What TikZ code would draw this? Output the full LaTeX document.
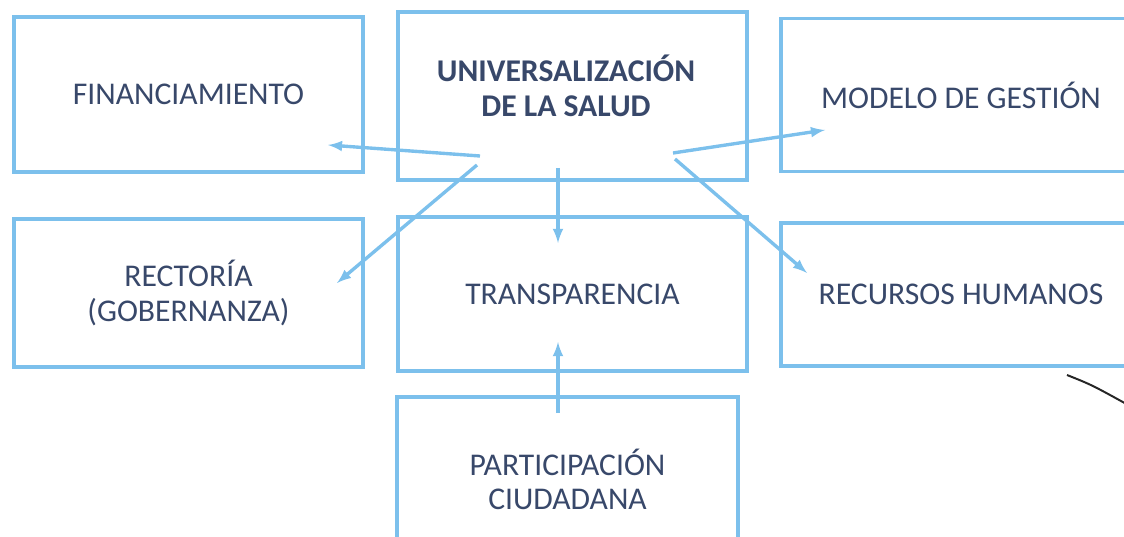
\documentclass[tikz,border=0pt]{standalone}
\usepackage{fontspec}
\setmainfont{Carlito}
\usepackage{xcolor}
\usepackage{tikz}
\usetikzlibrary{calc}
\usetikzlibrary{arrows}
\tikzset{>=latex}

\definecolor{azulcaja}{RGB}{124,192,236}
\definecolor{textocaja}{RGB}{56,72,106}

\tikzset{caja/.style={draw=azulcaja, line width=2.3pt, align=center,
		text=textocaja, inner sep=0pt, font=\fontsize{22.5}{24.5}\selectfont}}
\tikzset{rotulo/.style={align=center, text=textocaja, inner sep=0pt,
		font=\fontsize{22.5}{24.5}\selectfont\bfseries}}
\tikzset{flecha/.style={->, draw=azulcaja, line width=2.4pt}}

\begin{document}
\begin{tikzpicture}[x=0.025cm, y=-0.025cm]
	\useasboundingbox (0,0) rectangle (1124,537);
	
	% Cajas
	\node[caja, minimum width=8.725cm, minimum height=3.875cm](fin) at (188.5,94.5) {FINANCIAMIENTO};
	\node[caja, minimum width=8.725cm, minimum height=4.2cm](uni) at (572.5,96) {};
	\node[rotulo](uni-txt) at (566,86) {UNIVERSALIZACIÓN\\DE LA SALUD};
	\node[caja, minimum width=9cm, minimum height=3.825cm](mod) at (961,95) {MODELO DE GESTIÓN};
	\node[caja, minimum width=8.725cm, minimum height=3.7cm](rec) at (188.5,293) {RECTORÍA\\(GOBERNANZA)};
	\node[caja, minimum width=8.725cm, minimum height=3.85cm](tra) at (572.5,294) {TRANSPARENCIA};
	\node[caja, minimum width=9cm, minimum height=3.575cm](rrh) at (961,294.5) {RECURSOS HUMANOS};
	\node[caja, minimum width=8.525cm, minimum height=4.125cm](par) at (567.5,479.5) {PARTICIPACIÓN\\CIUDADANA};
	
	% Puntos de las flechas
	\coordinate[](uni-fin) at (480,156);
	\coordinate[](uni-rec) at (477,165);
	\coordinate[](uni-tra) at (558,168);
	\coordinate[](uni-mod) at (673,153);
	\coordinate[](uni-rrh) at (675,159);
	\coordinate[](fin-in) at (328,145);
	\coordinate[](rec-in) at (337,283);
	\coordinate[](tra-in) at (558,243);
	\coordinate[](mod-in) at (825,130);
	\coordinate[](rrh-in) at (807,273);
	\coordinate[](par-out) at (558,413);
	\coordinate[](tra-low) at (558,342);
	
	% Flechas
	\draw[flecha] (uni-fin) -- (fin-in);
	\draw[flecha] (uni-rec) -- (rec-in);
	\draw[flecha] (uni-tra) -- (tra-in);
	\draw[flecha] (uni-mod) -- (mod-in);
	\draw[flecha] (uni-rrh) -- (rrh-in);
	\draw[flecha] (par-out) -- (tra-low);
	
	% Trazo
	\draw[line width=1.4pt, draw=black!85] (1067,375) .. controls (1092,385) .. (1130,406);
	
\end{tikzpicture}
\end{document}
